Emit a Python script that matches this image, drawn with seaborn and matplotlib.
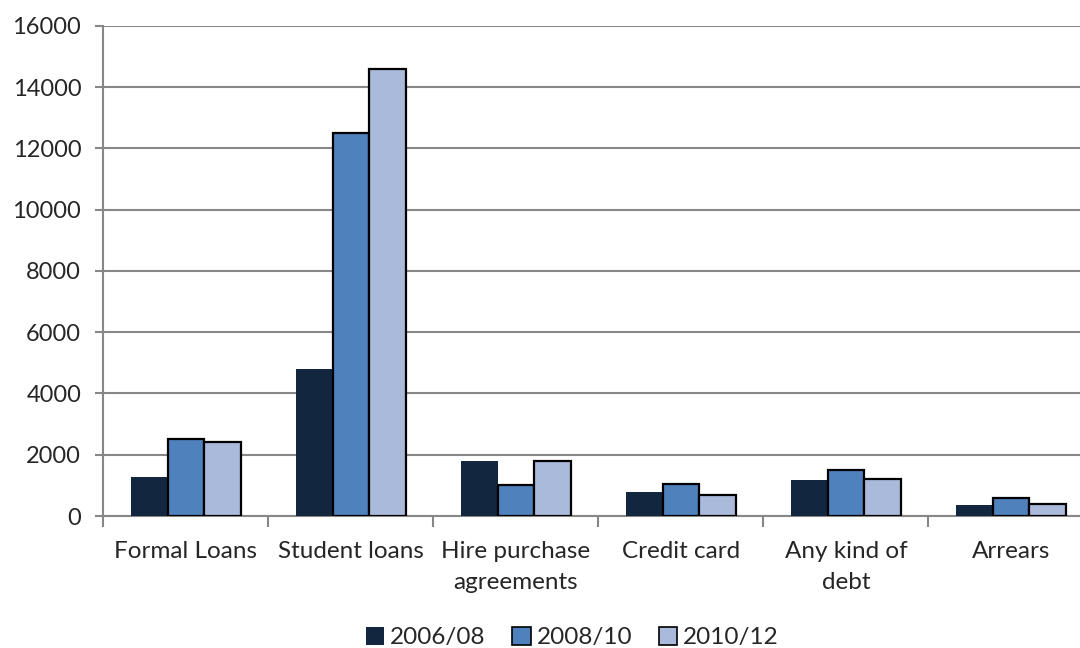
import pandas as pd
import matplotlib.pyplot as plt
import matplotlib.patches as mpatches
import seaborn as sns
from matplotlib.ticker import FixedLocator

# --- Data ---
categories = ["Formal Loans", "Student loans", "Hire purchase\nagreements",
              "Credit card", "Any kind of\ndebt", "Arrears"]
periods = ["2006/08", "2008/10", "2010/12"]
v_2006_08 = [1270, 4800, 1780, 790, 1190, 360]
v_2008_10 = [2500, 12500, 1000, 1060, 1500, 580]
v_2010_12 = [2400, 14600, 1800, 690, 1200, 400]

colors = ["#12263F", "#4F81BD", "#AABADB"]
edges = ["none", "black", "black"]

df = pd.DataFrame({
    "category": categories * 3,
    "period": [p for p in periods for _ in categories],
    "value": v_2006_08 + v_2008_10 + v_2010_12,
})

sns.set_style("white")
plt.rcParams["font.family"] = ["Lato", "DejaVu Sans"]

fig = plt.figure(figsize=(10.8, 6.48), dpi=100)
# the plot area runs past the right edge of the picture, as in the reference
ax = fig.add_axes([0.0958, 0.2037, 0.9167, 0.7563])

sns.barplot(data=df, x="category", y="value", hue="period",
            palette=colors, width=0.67, ax=ax, legend=False,
            saturation=1, zorder=3)

# edges: dark series has none, others black
for container, ec in zip(ax.containers, edges):
    for bar in container:
        if ec == "none":
            bar.set_edgecolor("none")
        else:
            bar.set_edgecolor(ec)
            bar.set_linewidth(1.6)

# --- Axes styling ---
ax.set_ylim(0, 16000)
ax.set_xlim(-0.5, len(categories) - 0.5)
ax.set_yticks(range(0, 16001, 2000))
ax.yaxis.grid(True, color="#878787", linewidth=1.5, zorder=0)
ax.xaxis.grid(False)
ax.set_xlabel("")
ax.set_ylabel("")

for side in ["top", "right"]:
    ax.spines[side].set_visible(False)
for side in ["left", "bottom"]:
    ax.spines[side].set_color("#878787")
    ax.spines[side].set_linewidth(1.5)

ax.tick_params(axis="y", labelsize=17, length=6, width=1.5, color="#878787",
               direction="out", pad=10, left=True)
ax.tick_params(axis="x", which="major", labelsize=17.5, length=0, pad=18)
ax.xaxis.set_minor_locator(FixedLocator([i - 0.5 for i in range(len(categories) + 1)]))
ax.tick_params(axis="x", which="minor", length=8, width=1.5, color="#878787",
               direction="out", bottom=True)
for lbl in ax.get_xticklabels():
    lbl.set_linespacing(1.6)
    lbl.set_verticalalignment("top")

# --- Legend at the bottom ---
handles = [mpatches.Patch(facecolor=c, edgecolor=("none" if e == "none" else e),
                          linewidth=1.2, label=p)
           for c, e, p in zip(colors, edges, periods)]
fig.legend(handles=handles, loc="center", bbox_to_anchor=(0.53, 0.016),
           ncol=3, frameon=False, fontsize=17.5, handlelength=0.75,
           handleheight=0.75, handletextpad=0.25, columnspacing=1.1)

fig.savefig("out.png", dpi=100, facecolor="white")
